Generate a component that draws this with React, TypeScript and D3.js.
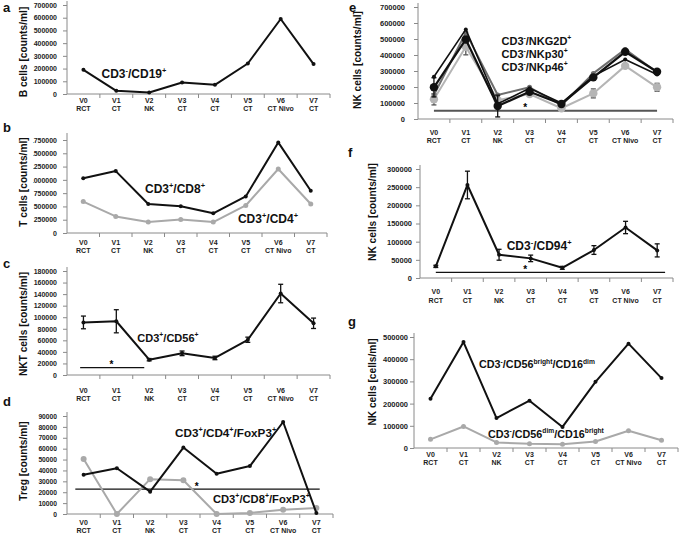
import * as d3 from "d3";
import { useEffect, useRef } from "react";

const visits = ["V0", "V1", "V2", "V3", "V4", "V5", "V6", "V7"];
const visitTypes = ["RCT", "CT", "NK", "CT", "CT", "CT", "CT Nivo", "CT"];

// a - B cells
const bCells = [190000, 25000, 12000, 90000, 72000, 240000, 590000, 235000];
// b - T cells
const cd8T = [1030000, 1165000, 545000, 505000, 370000, 688000, 1705000, 795000];
const cd4T = [592000, 312000, 205000, 255000, 205000, 518000, 1205000, 545000];
// c - NKT cells
const nkt = [91000, 93000, 26500, 37500, 29500, 61000, 141000, 89500];
const nktErr = [11000, 20000, 2000, 4000, 3000, 4500, 16000, 9000];
const nktSig = [-0.1, 1.85, 12700];
// d - Treg
const tregCd4 = [36000, 42000, 20500, 61000, 37000, 44000, 84500, 1000];
const tregCd8 = [50500, 0, 32000, 31000, 0, 1000, 4000, 5500];
const tregSig = [-0.25, 7.1, 22800];
// e - NK receptors
const nkg2d = [264000, 560000, 95000, 192000, 100000, 268000, 372000, 278000];
const nkp30 = [150000, 540000, 150000, 198000, 86000, 285000, 435000, 292000];
const nkp46 = [123000, 451000, 118000, 156000, 67000, 160000, 332000, 198000];
const nkp46Err = [35000, 50000, 0, 10000, 0, 28000, 0, 25000];
const nkAll = [198000, 497000, 81000, 170000, 94000, 260000, 420000, 295000];
const nkAllErr = [60000, 0, 68000, 0, 0, 0, 0, 0];
const nkSig = [0, 7, 52000];
// f - CD94
const cd94 = [32000, 256000, 64000, 54000, 28000, 77000, 139000, 76000];
const cd94Err = [3000, 38000, 15000, 9000, 4000, 12000, 17000, 18000];
const cd94Sig = [0, 7.25, 15600];
// g - CD56 subsets
const cd56Bright = [222000, 477000, 135000, 213000, 95000, 298000, 470000, 315000];
const cd56Dim = [39000, 97000, 25000, 19000, 17000, 29000, 78000, 35000];

const FONT = "'Liberation Sans', Arial, sans-serif";
const AXIS = "#8a8a8a";
const BLACK = "#111";
const GREY = "#a9a9a9";
const LIGHT = "#b5b5b5";

const panels = [
  {
    letter: "a", lx: 3, ly: 12, title: "B cells [counts/ml]", tx: 23, ty: 52,
    x0: 67, x1: 330, yTop: 5, yBottom: 94, max: 700000, step: 100000, tickPad: 6, tickFont: 7, lab: [9, 17],
    series: [{ values: bCells, color: BLACK, width: 2, r: 2 }],
    labels: [{ text: "CD3^{-}/CD19^{+}", x: 0.55, y: 125000, size: 12 }],
  },
  {
    letter: "b", lx: 3, ly: 132, title: "T cells [counts/ml]", tx: 23, ty: 182,
    x0: 67, x1: 327, yTop: 140, yBottom: 233, max: 1750000, step: 250000, tickPad: 6, tickFont: 7, lab: [11.5, 19.5],
    clip: 33, ext: 7,
    series: [
      { values: cd4T, color: GREY, width: 2, r: 2.5 },
      { values: cd8T, color: BLACK, width: 2, r: 2 },
    ],
    labels: [
      { text: "CD3^{+}/CD8^{+}", x: 1.9, y: 752000, size: 12 },
      { text: "CD3^{+}/CD4^{+}", x: 4.76, y: 188000, size: 12 },
    ],
  },
  {
    letter: "c", lx: 3, ly: 268, title: "NKT cells [counts/ml]", tx: 23, ty: 324,
    x0: 67, x1: 330, yTop: 271, yBottom: 375, max: 180000, step: 20000, tickPad: 6, tickFont: 7, lab: [17.5, 25.5],
    sig: nktSig, star: 0.85,
    series: [{ values: nkt, color: BLACK, width: 2, r: 2, err: nktErr }],
    labels: [{ text: "CD3^{+}/CD56^{+}", x: 1.64, y: 57000, size: 11 }],
  },
  {
    letter: "d", lx: 3, ly: 406, title: "Treg [counts/ml]", tx: 23, ty: 461,
    x0: 67, x1: 333, yTop: 416, yBottom: 514, max: 90000, step: 10000, tickPad: 6, tickFont: 6.7, lab: [10.5, 18.5],
    sig: tregSig, star: 3.4,
    series: [
      { values: tregCd8, color: GREY, width: 2, r: 3 },
      { values: tregCd4, color: BLACK, width: 2, r: 2 },
    ],
    labels: [
      { text: "CD3^{+}/CD4^{+}/FoxP3^{+}", x: 2.75, y: 70700, size: 11.7 },
      { text: "CD3^{+}/CD8^{+}/FoxP3^{+}", x: 3.89, y: 10100, size: 11.2 },
    ],
  },
  {
    letter: "e", lx: 349, ly: 12, title: "NK cells [counts/ml]", tx: 357, ty: 60,
    x0: 418, x1: 673, yTop: 7, yBottom: 119, max: 700000, step: 100000, tickPad: 9, tickFont: 7.5, lab: [15.5, 23.5],
    sig: nkSig, star: 2.86, sigColor: "#555", sigWidth: 2,
    series: [
      { values: nkp46, color: LIGHT, width: 2, r: 4.2, err: nkp46Err },
      { values: nkp30, color: "#6e6e6e", width: 2, r: 2.5 },
      { values: nkg2d, color: BLACK, width: 1.6, r: 2 },
      { values: nkAll, color: BLACK, width: 2.2, r: 4.2, err: nkAllErr },
    ],
    labels: [
      { text: "CD3^{-}/NKG2D^{+}", x: 2.12, y: 462000, size: 11 },
      { text: "CD3^{-}/NKp30^{+}", x: 2.12, y: 381000, size: 11 },
      { text: "CD3^{-}/NKp46^{+}", x: 2.12, y: 300000, size: 11 },
    ],
  },
  {
    letter: "f", lx: 348, ly: 157, title: "NK cells [counts/ml]", tx: 372, ty: 212,
    x0: 420, x1: 673, yTop: 169, yBottom: 278, max: 300000, step: 50000, tickPad: 4, tickFont: 7.5, lab: [15.5, 24.5],
    sig: cd94Sig, star: 2.83,
    series: [{ values: cd94, color: BLACK, width: 2, r: 2, err: cd94Err }],
    labels: [{ text: "CD3^{-}/CD94^{+}", x: 2.24, y: 77000, size: 12 }],
  },
  {
    letter: "g", lx: 348, ly: 326, title: "NK cells [cells/ml]", tx: 372, ty: 382,
    x0: 414, x1: 678, yTop: 337, yBottom: 448, max: 500000, step: 100000, tickPad: 2, tickFont: 7.5, lab: [8.5, 16.5],
    series: [
      { values: cd56Dim, color: GREY, width: 2, r: 2.5 },
      { values: cd56Bright, color: BLACK, width: 2, r: 2 },
    ],
    labels: [
      { text: "CD3^{-}/CD56^{bright}/CD16^{dim}", x: 1.47, y: 360000, size: 10.8 },
      { text: "CD3^{-}/CD56^{dim}/CD16^{bright}", x: 1.74, y: 45000, size: 10.8 },
    ],
  },
];

// writes "CD3^{+}/CD8^{+}" as text with superscript tspans
function richText(sel, str, size) {
  const parts = str.split(/\^\{([^}]*)\}/);
  let raised = false;
  parts.forEach((part, i) => {
    if (!part) return;
    const t = sel.append("tspan").text(part);
    if (i % 2 === 1) {
      t.attr("font-size", size * 0.62).attr("dy", -size * 0.42);
      raised = true;
    } else if (raised) {
      t.attr("dy", size * 0.42);
      raised = false;
    }
  });
}

function drawPanel(svg, p, idx) {
  const g = svg.append("g").attr("font-family", FONT);
  const x = d3.scaleLinear().domain([-0.5, visits.length - 0.5]).range([p.x0, p.x1]);
  const y = d3.scaleLinear().domain([0, p.max]).range([p.yBottom, p.yTop]);
  const ticks = d3.range(0, p.max + p.step / 2, p.step);

  // y axis
  const yAxis = g.append("g")
    .attr("transform", `translate(${p.x0},0)`)
    .call(d3.axisLeft(y).tickValues(ticks).tickSize(4).tickPadding(p.tickPad).tickFormat(d3.format("d")));
  yAxis.attr("font-family", FONT).attr("font-size", p.tickFont).attr("font-weight", "bold");
  yAxis.select(".domain").remove();
  yAxis.selectAll("line").attr("stroke", AXIS);
  yAxis.selectAll("text").attr("fill", "#222");
  if (p.clip) {
    // labels above 1 000 000 lose their first digit, as in the source figure
    const id = `clip${idx}`;
    svg.append("clipPath").attr("id", id)
      .append("rect").attr("x", p.clip - p.x0).attr("y", 0).attr("width", 685).attr("height", 535);
    yAxis.attr("clip-path", `url(#${id})`);
  }
  g.append("line")
    .attr("x1", p.x0).attr("x2", p.x0)
    .attr("y1", p.yTop - (p.ext || 4)).attr("y2", p.yBottom)
    .attr("stroke", AXIS);

  // x axis
  g.append("line")
    .attr("x1", p.x0).attr("x2", p.x1)
    .attr("y1", p.yBottom).attr("y2", p.yBottom)
    .attr("stroke", AXIS);
  g.selectAll(".xt")
    .data(d3.range(1, visits.length + 1))
    .enter()
    .append("line")
    .attr("x1", (k) => x(k - 0.5)).attr("x2", (k) => x(k - 0.5))
    .attr("y1", p.yBottom).attr("y2", p.yBottom + 4)
    .attr("stroke", AXIS);
  const xl = g.append("g").attr("font-size", 7).attr("font-weight", "bold").attr("fill", "#222").attr("text-anchor", "middle");
  visits.forEach((v, i) => {
    xl.append("text").attr("x", x(i)).attr("y", p.yBottom + p.lab[0]).text(v);
    xl.append("text").attr("x", x(i)).attr("y", p.yBottom + p.lab[1]).text(visitTypes[i]);
  });

  // significance line
  if (p.sig) {
    g.append("line")
      .attr("x1", x(p.sig[0])).attr("x2", x(p.sig[1]))
      .attr("y1", y(p.sig[2])).attr("y2", y(p.sig[2]))
      .attr("stroke", p.sigColor || BLACK)
      .attr("stroke-width", p.sigWidth || 1.3);
    g.append("text")
      .attr("x", x(p.star)).attr("y", y(p.sig[2]) + 0.5)
      .attr("text-anchor", "middle").attr("font-size", 10).attr("font-weight", "bold")
      .text("*");
  }

  // series
  const line = d3.line().x((d, i) => x(i)).y((d) => y(d));
  p.series.forEach((s) => {
    g.append("path")
      .attr("d", line(s.values))
      .attr("fill", "none")
      .attr("stroke", s.color)
      .attr("stroke-width", s.width)
      .attr("stroke-linejoin", "round");
    if (s.err) {
      const ec = s.color === LIGHT ? "#555" : BLACK;
      s.values.forEach((v, i) => {
        const e = s.err[i];
        if (!e) return;
        const cx = x(i);
        g.append("line").attr("x1", cx).attr("x2", cx).attr("y1", y(v - e)).attr("y2", y(v + e))
          .attr("stroke", ec).attr("stroke-width", 1.3);
        [v - e, v + e].forEach((c) => {
          g.append("line").attr("x1", cx - 2.5).attr("x2", cx + 2.5).attr("y1", y(c)).attr("y2", y(c))
            .attr("stroke", ec).attr("stroke-width", 1.3);
        });
      });
    }
    g.selectAll(null)
      .data(s.values)
      .enter()
      .append("circle")
      .attr("cx", (d, i) => x(i))
      .attr("cy", (d) => y(d))
      .attr("r", s.r)
      .attr("fill", s.color);
  });

  // series labels
  p.labels.forEach((l) => {
    const t = g.append("text")
      .attr("x", x(l.x)).attr("y", y(l.y))
      .attr("font-size", l.size).attr("font-weight", "bold").attr("fill", "#111");
    richText(t, l.text, l.size);
  });

  // axis title
  g.append("text")
    .attr("transform", `translate(${p.tx},${p.ty}) rotate(-90)`)
    .attr("dy", "0.36em")
    .attr("text-anchor", "middle")
    .attr("font-size", 10.2)
    .attr("font-weight", "bold")
    .attr("fill", "#111")
    .text(p.title);

  // panel letter
  g.append("text")
    .attr("x", p.lx).attr("y", p.ly)
    .attr("font-size", 13).attr("font-weight", "bold").attr("fill", "#111")
    .text(p.letter);
}

export default function App() {
  const svgRef = useRef(null);

  useEffect(() => {
    const svg = d3.select(svgRef.current);
    svg.selectAll("*").remove();
    svg.append("rect").attr("width", 685).attr("height", 535).attr("fill", "#fff");
    panels.forEach((p, i) => drawPanel(svg, p, i));
    return () => {
      d3.select(svgRef.current).selectAll("*").remove();
    };
  }, []);

  return (
    <svg
      ref={svgRef}
      width={685}
      height={535}
      style={{ position: "absolute", left: 0, top: 0 }}
    />
  );
}
